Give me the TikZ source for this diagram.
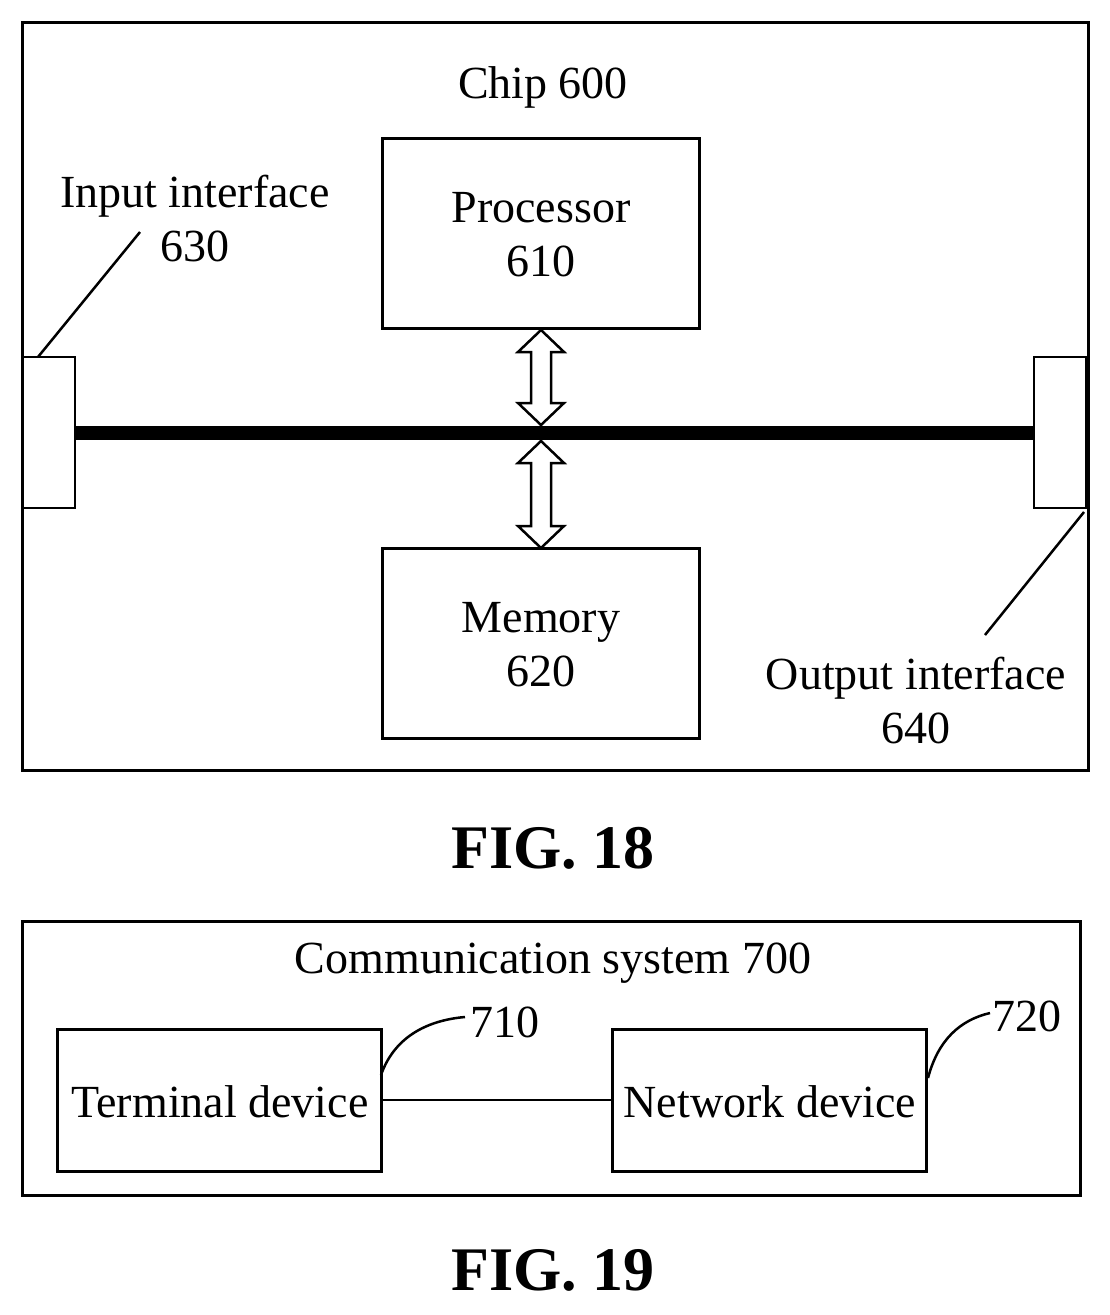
\documentclass[tikz,border=0pt]{standalone}
\usepackage{fontspec}
\setmainfont{Liberation Serif}
\begin{document}
\begin{tikzpicture}[x=1pt,y=-1pt,
  box/.style={draw,line width=3pt},
  lbl/.style={font=\fontsize{46}{48}\selectfont,align=center,inner sep=0pt},
  fig/.style={font=\fontsize{62}{64}\selectfont\bfseries,inner sep=0pt},
  thin/.style={line width=2.5pt}]
\useasboundingbox (0,0) rectangle (1110,1315);
% FIG 18
\draw[box] (22,22) rectangle (1088,770);
\node[lbl] (chip) at (543,87) {Chip 600};
\draw[box] (382,138) rectangle (699,328);
\node[lbl] (proc) at (541,235) {Processor\\[6pt]610};
\draw[box] (382,548) rectangle (699,738);
\node[lbl] (mem) at (541,645) {Memory\\[6pt]620};
\draw[thin] (22,357) rectangle (75,508);
\coordinate (inl) at (75,433);
\draw[thin] (1034,357) rectangle (1086,508);
\coordinate (outl) at (1034,433);
\draw[line width=14pt] (inl) -- (outl);
\draw[thin,fill=white] (541,330)--(564,352)--(551,352)--(551,403)--(564,403)--(541,425)--(518,403)--(531,403)--(531,352)--(518,352)--cycle;
\draw[thin,fill=white] (541,441)--(564,463)--(551,463)--(551,526)--(564,526)--(541,548)--(518,526)--(531,526)--(531,463)--(518,463)--cycle;
\node[lbl] (inlab) at (195,219) {Input interface\\[6pt]630};
\coordinate (ina) at (140,232);
\coordinate (inb) at (38,357);
\draw[thin] (ina) -- (inb);
\node[lbl] (outlab) at (916,701) {Output interface\\[6pt]640};
\coordinate (oa) at (985,635);
\coordinate (ob) at (1084,512);
\draw[thin] (oa) -- (ob);
\node[fig] (f18) at (553,848) {FIG. 18};
% FIG 19
\draw[box] (22,921) rectangle (1080,1195);
\node[lbl] (cs) at (553,963) {Communication system 700};
\draw[box] (57,1029) rectangle (381,1171);
\node[lbl] (term) at (220,1102) {Terminal device};
\draw[box] (612,1029) rectangle (926,1171);
\node[lbl] (net) at (770,1102) {Network device};
\coordinate (t1) at (381,1100);
\coordinate (n1) at (612,1100);
\draw[thin] (t1) -- (n1);
\node[lbl] (l710) at (505,1022) {710};
\coordinate (c1) at (381,1075);
\coordinate (c2) at (465,1017);
\draw[thin] (c1) .. controls (395,1035) and (430,1020) .. (c2);
\node[lbl] (l720) at (1027,1016) {720};
\coordinate (d1) at (928,1078);
\coordinate (d2) at (990,1013);
\draw[thin] (d1) .. controls (938,1040) and (960,1020) .. (d2);
\node[fig] (f19) at (553,1270) {FIG. 19};
\end{tikzpicture}
\end{document}
